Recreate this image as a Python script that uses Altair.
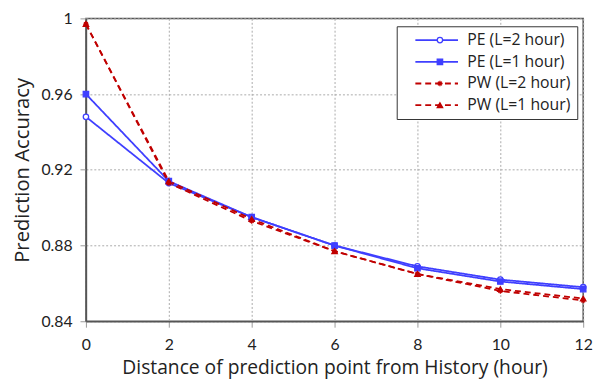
import altair as alt
import pandas as pd

hours = [0, 2, 4, 6, 8, 10, 12]
series_names = ["PE (L=2 hour)", "PE (L=1 hour)", "PW (L=2 hour)", "PW (L=1 hour)"]
pe_l2 = [0.948, 0.913, 0.895, 0.880, 0.869, 0.862, 0.858]
pe_l1 = [0.960, 0.914, 0.895, 0.880, 0.868, 0.861, 0.857]
pw_l2 = [0.997, 0.913, 0.893, 0.877, 0.865, 0.856, 0.851]
pw_l1 = [0.997, 0.914, 0.894, 0.877, 0.865, 0.857, 0.852]
y_ticks = [0.84, 0.88, 0.92, 0.96, 1.0]
x_ticks = [0, 2, 4, 6, 8, 10, 12]

rows = []
for name, vals in zip(series_names, [pe_l2, pe_l1, pw_l2, pw_l1]):
    for h, v in zip(hours, vals):
        rows.append({"hour": h, "acc": v, "series": name, "series_pt": name + " "})
df = pd.DataFrame(rows)

BLUE = "#3f3fff"
RED = "#c00000"
FONT = "Lato"
TFONT = "Open Sans"
asterisk = "M-1,0L1,0M0,-1L0,1M-0.7,-0.7L0.7,0.7M-0.7,0.7L0.7,-0.7"
line_sym = "M-3.6,0L3.6,0"

x_enc = alt.X("hour:Q", scale=alt.Scale(domain=[0, 12], nice=False),
              axis=alt.Axis(values=x_ticks, title="Distance of prediction point  from History (hour)",
                            labelFontSize=16, titleFontSize=19.5, labelPadding=10, titlePadding=6,
                            tickSize=6, labelFlush=False))
y_enc = alt.Y("acc:Q", scale=alt.Scale(domain=[0.84, 1.0], nice=False, zero=False),
              axis=alt.Axis(values=y_ticks, title="Prediction Accuracy",
                            labelExpr="datum.value == 1 ? '1' : format(datum.value, '.2f')",
                            labelFontSize=16, titleFontSize=20.5, labelPadding=8, titlePadding=9,
                            tickSize=6))

LX, LY = 315, 8
common = dict(title=None, orient="none", legendX=LX, legendY=LY,
              labelFontSize=16, labelFont=TFONT, rowPadding=6, padding=6)

line_leg = dict(common, symbolType=line_sym, symbolSize=144, symbolStrokeWidth=1.8,
                symbolOffset=26.5, labelOffset=23, labelColor="#222",
                labelExpr="datum.label + ' '",
                strokeColor="#333", fillColor="white")
pt_leg = dict(common, symbolSize=30, symbolOffset=29.8, labelOffset=23,
              labelExpr="' '", symbolStrokeWidth=1.3)

lines = alt.Chart(df).mark_line(strokeWidth=1.8).encode(
    x=x_enc, y=y_enc,
    color=alt.Color("series:N", scale=alt.Scale(domain=series_names, range=[BLUE, BLUE, RED, RED]),
                    legend=alt.Legend(**line_leg)),
    strokeDash=alt.StrokeDash("series:N", scale=alt.Scale(domain=series_names,
                                                          range=[[1, 0], [1, 0], [6, 4], [6, 4]]),
                              legend=alt.Legend(**line_leg)),
    detail="series:N",
)

pt_domain = [s + " " for s in series_names]
points = alt.Chart(df).mark_point(size=30, strokeWidth=1.3, opacity=1).encode(
    x="hour:Q", y="acc:Q",
    shape=alt.Shape("series_pt:N", scale=alt.Scale(domain=pt_domain,
                                                   range=["circle", "square", asterisk, "triangle-up"]),
                    legend=alt.Legend(**pt_leg)),
    stroke=alt.Stroke("series_pt:N", scale=alt.Scale(domain=pt_domain, range=[BLUE, BLUE, RED, RED]),
                      legend=alt.Legend(**pt_leg)),
    fill=alt.Fill("series_pt:N", scale=alt.Scale(domain=pt_domain,
                                                 range=["white", BLUE, "transparent", RED]),
                  legend=alt.Legend(**pt_leg)),
)

chart = alt.layer(lines, points).properties(
    width=504, height=307,
    autosize=alt.AutoSizeParams(type="none"),
    padding={"left": 79, "top": 8, "right": 14, "bottom": 57},
).configure_axis(
    labelFont=FONT, titleFont=TFONT, labelColor="#222", titleColor="#222",
    domainColor="#555", domainWidth=1.5, tickColor="#999",
    gridColor="#aaa", gridDash=[2, 2], gridWidth=1, titleFontWeight="normal",
).configure_view(stroke="#555", strokeWidth=1.5)

chart.save("out.html", embed_options={"renderer": "svg", "actions": False})
